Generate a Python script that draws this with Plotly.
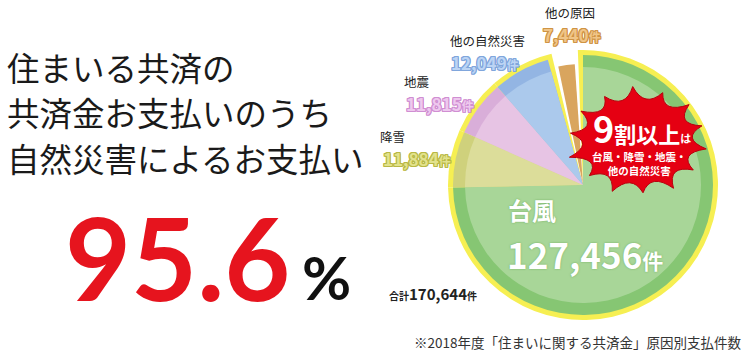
import numpy as np
import plotly.graph_objects as go

W, H = 745, 354
JP = "Noto Sans CJK JP"

# ---- data ----
causes = ["台風", "降雪", "地震", "他の自然災害", "他の原因"]
counts = [127456, 11884, 11815, 12049, 7440]
natural_share_label = "95.6"
title_lines = ["住まいる共済の", "共済金お支払いのうち", "自然災害によるお支払い"]
footnote = "※2018年度「住まいに関する共済金」原因別支払件数"

# ---- styles ----
light_colors = ["#a8d698", "#dcdd9a", "#e7c4e4", "#abc9ec", "#d9a55e"]
band_colors = ["#86c673", "#cfd17c", "#d9aed9", "#93b5e3", "#d9a55e"]
label_fill = [None, "#e2e28c", "#eec8ee", "#bcd4f4", "#f0c588"]
label_edge = [None, "#b8b845", "#d08fd2", "#80a6dc", "#cf9445"]
YELLOW = "#f6ef52"
CLEAR = "rgba(0,0,0,0)"

CX, CY = 583, 185
total = sum(counts)


def dom(r):
    return dict(x=[(CX - r) / W, (CX + r) / W],
                y=[(H - CY - r) / H, (H - CY + r) / H])


def deg_val(deg):
    return deg / 360.0 * total


def widened(deg):
    d = deg_val(deg)
    v = list(counts)
    v[0] += d
    v[3] += d
    v[4] -= 2 * d
    return v


def pie(values, colors, r, rotation=0.0):
    return go.Pie(values=values, labels=causes, sort=False, direction="clockwise",
                  rotation=rotation, domain=dom(r), textinfo="none", textposition="none",
                  hoverinfo="skip", showlegend=False,
                  marker=dict(colors=colors, line=dict(width=0)))


fig = go.Figure()
# yellow border for natural-disaster group (slightly wider into the 他の原因 gap)
fig.add_trace(pie(widened(2.2), [YELLOW] * 4 + [CLEAR], 135, rotation=-2.2))
# darker outer band
fig.add_trace(pie(counts, band_colors[:4] + [CLEAR], 130))
# lighter inner
fig.add_trace(pie(counts, light_colors[:4] + [CLEAR], 118))
# 他の原因 slice, detached with white gaps
fig.add_trace(pie(widened(3.9), [CLEAR] * 4 + [light_colors[4]], 121, rotation=-3.9))

# ---- burst shape ----
bx, by, rx, ry = 638, 141, 69, 53
n = 14
mult = [1.0, 0.97, 1.03, 0.98, 1.02, 0.96, 1.04, 0.99, 1.0, 0.97, 1.03, 0.98, 1.01, 0.97]
ang = np.linspace(0, 2 * np.pi, n, endpoint=False) + 0.15
pts = [(bx + rx * m * np.cos(a), by + ry * m * np.sin(a)) for a, m in zip(ang, mult)]
ctrl = [(bx + rx * 0.62 * np.cos(a + np.pi / n), by + ry * 0.62 * np.sin(a + np.pi / n)) for a in ang]


def P(x, y):
    return f"{x / W:.5f},{1 - y / H:.5f}"


path = "M " + P(*pts[0])
for i in range(n):
    path += " Q " + P(*ctrl[i]) + " " + P(*pts[(i + 1) % n])
path += " Z"
fig.add_shape(type="path", path=path, xref="paper", yref="paper",
              fillcolor="#e50012", line=dict(color="#b8000c", width=1), layer="above")


def ann(text, x, y, size, color="#222", weight="normal", xanchor="center",
        family=JP, shadow=None):
    f = dict(family=family, size=size, color=color, weight=weight)
    if shadow:
        f["shadow"] = shadow
    fig.add_annotation(text=text, x=x / W, y=1 - y / H, xref="paper", yref="paper",
                       showarrow=False, xanchor=xanchor, yanchor="middle", font=f)


def outline(c):
    return f"1px 0 {c}, -1px 0 {c}, 0 1px {c}, 0 -1px {c}, 1px 1px {c}, -1px -1px {c}, 1px -1px {c}, -1px 1px {c}"


def num(v, small):
    return f"{v:,}<span style='font-size:{small}px'>件</span>"


# ---- left title ----
for line, y in zip(title_lines, [67, 112, 157]):
    ann(line, 5, y, 32.5, "#1a1a1a", xanchor="left")

ann(natural_share_label, 177, 256, 114, "#e6141e", weight="bold", family="Lato")
ann("%", 326, 277, 60, "#111", weight="bold", family="Lato")

# ---- slice labels ----
label_pos = {1: (393, 136.5, 417, 158), 2: (417, 81.5, 440, 104),
             3: (487, 40.5, 485, 63), 4: (570, 12.5, 572, 34)}
for i, (lx, ly, nx, ny) in label_pos.items():
    ann(causes[i], lx, ly, 12.5, "#222")
    ann(num(counts[i], 12), nx, ny, 17, label_fill[i], weight="bold",
        shadow=outline(label_edge[i]))

ann(causes[0], 532, 209, 24, "white", weight="bold", shadow="0 0 2px rgba(70,140,50,0.6)")
ann(num(counts[0], 21), 585, 253, 35, "white", weight="bold",
    shadow="0 0 2px rgba(70,140,50,0.6)")

ann(f"<span style='font-size:10px'>合計</span>{total:,}<span style='font-size:10px'>件</span>",
    387, 293, 15, "#222", weight="bold", xanchor="left")

# ---- burst text ----
ann("<span style='font-size:36px'>9</span>割以上<span style='font-size:11px'>は</span>",
    642, 127, 22, "white", weight="bold")
ann("台風・降雪・地震・<br>他の自然災害", 639, 164, 10.5, "white", weight="bold")

ann(footnote, 743, 342, 13.5, "#333", xanchor="right")

fig.update_layout(width=W, height=H, margin=dict(l=0, r=0, t=0, b=0),
                  paper_bgcolor="white", plot_bgcolor="white", autosize=False)
fig.write_html("out.html")
